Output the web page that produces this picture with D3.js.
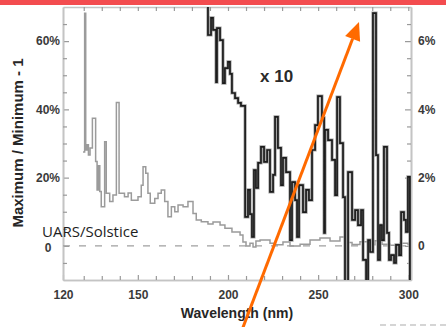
<!DOCTYPE html>
<html>
<head>
<meta charset="utf-8">
<script src="https://cdn.jsdelivr.net/npm/d3@7"></script>
<style>
  html, body { margin: 0; padding: 0; background: #fff; }
  svg { display: block; }
  .tick text { font-family: "Liberation Sans", Arial, sans-serif; font-weight: bold; font-size: 12px; fill: #3a3a3a; }
</style>
</head>
<body>
<svg id="chart" width="446" height="327"></svg>
<script>
// Solar UV variability: full (gray) and x10 (black) series
const grayNm = [119.6,120.5,121.1,121.8,122.6,123.5,124.8,126.6,127.4,128.2,128.9,129.7,131.6,132.5,134.4,136.2,138.1,139.6,142.6,144.6,146.4,150.1,151.9,152.9,154.4,155.6,156.9,159.4,161.2,163.0,164.9,166.7,168.6,170.5,172.3,175.1,177.8,180.6,182.4,185.2,188.9,191.7,195.6,198.3,202.2,206.7,208.3,210.0,212.2,213.9,215.5,217.8,223.3,226.1,230.5,234.4,240.0,245.5,251.0,256.6,262.1,264.9,268.8,273.2,277.7,281.5,285.4,289.9,295.4,299.9];
const grayPct = [27.5,68.2,28.1,29.6,26.6,28.7,37.4,24.7,16.4,23.5,15.9,11.5,30.5,15.4,13.0,14.9,42.0,15.4,14.4,15.5,13.4,14.4,17.8,23.2,21.3,15.4,12.5,13.9,15.4,16.4,13.0,8.5,11.5,10.0,12.0,11.5,13.0,9.5,7.6,7.1,6.4,7.0,6.1,5.2,4.1,3.2,1.1,0.0,0.8,-0.3,1.4,1.7,0.8,0.3,1.1,0.0,0.5,1.7,2.3,1.4,2.6,1.0,0.4,1.2,0.3,1.5,0.5,0.2,0.8,0.4];

const blackNm = [187.3,188.9,190.6,191.7,193.4,193.9,195.6,197.2,198.3,200.0,201.1,202.2,203.9,205.6,207.2,209.5,211.1,212.2,213.3,214.4,215.5,216.7,218.3,220.0,221.7,223.3,225.0,226.1,227.7,229.4,230.5,232.2,234.4,235.5,237.2,238.3,239.4,241.6,243.3,244.9,246.6,248.3,249.9,252.1,253.3,253.8,255.5,257.7,259.4,260.5,262.1,263.8,264.9,266.6,268.8,270.5,272.1,273.8,274.9,276.6,277.7,278.8,280.4,282.1,283.2,284.3,285.4,286.5,288.2,289.3,290.4,292.1,293.2,294.9,296.0,297.6,298.7,299.8,300.9];
const blackPct = [7.2,6.18,6.68,6.33,4.80,6.38,6.03,4.77,5.21,5.39,5.04,4.48,4.33,4.19,4.10,0.85,1.64,0.93,0.26,2.22,1.70,2.43,2.90,2.46,2.81,1.58,2.08,3.78,2.87,1.78,2.58,2.16,0.17,1.87,1.34,0.26,1.78,0.99,1.64,1.34,2.81,3.54,4.39,3.75,0.38,3.40,3.10,2.52,1.49,4.36,3.01,1.43,-1.06,2.16,0.76,1.05,0.61,1.05,-0.41,-1.06,0.17,-0.18,6.82,2.66,-0.41,0.61,0.17,2.90,0.38,-0.41,-0.27,-0.50,0.03,-0.27,0.99,0.76,0.41,2.02,-1.06];

// Axis ticks and labels
const xMajorTicks = [108.5, 150, 200, 250, 300];
const xMajorLabels = ["120", "150", "200", "250", "300"];
const xMinorTicks = [120,130,140,160,170,180,190,210,220,230,240,260,270,280,290];
const yLeftTicks = [0, 20, 40, 60];
const yLeftLabels = ["0", "20%", "40%", "60%"];
const yRightTicks = [0, 2, 4, 6];
const yRightLabels = ["0", "2%", "4%", "6%"];

const svg = d3.select("#chart");
const W = 446, H = 327;
const plot = { left: 63, right: 411, top: 7, bottom: 280 };

const x = d3.scaleLinear().domain([108.5, 301.5]).range([plot.left, plot.right]);
const yL = d3.scaleLinear().domain([-10, 70]).range([plot.bottom, plot.top]);
const yR = d3.scaleLinear().domain([-1, 7]).range([plot.bottom, plot.top]);

// red band across the top
svg.append("rect").attr("x", 0).attr("y", 0).attr("width", W).attr("height", 5).attr("fill", "#f34c4f");

svg.append("defs").append("clipPath").attr("id", "plotClip")
  .append("rect").attr("x", plot.left).attr("y", plot.top)
  .attr("width", plot.right - plot.left).attr("height", plot.bottom - plot.top);

const frameColor = "#c4c4c4", tickColor = "#9a9a9a";

function styleAxis(g) {
  g.select(".domain").attr("stroke", frameColor).attr("stroke-width", 1.6);
  g.selectAll(".tick line").attr("stroke", tickColor).attr("stroke-width", 1.2);
}

// bottom axis
svg.append("g").attr("transform", `translate(0,${plot.bottom})`)
  .call(d3.axisBottom(x).tickValues(xMajorTicks).tickSize(-5).tickSizeOuter(0).tickPadding(10)
    .tickFormat((d, i) => xMajorLabels[i]))
  .call(styleAxis);
svg.append("g").attr("transform", `translate(0,${plot.bottom})`)
  .call(d3.axisBottom(x).tickValues(xMinorTicks).tickSize(-4).tickSizeOuter(0).tickFormat(""))
  .call(styleAxis);

// top axis
svg.append("g").attr("transform", `translate(0,${plot.top})`)
  .call(d3.axisTop(x).tickValues(xMajorTicks.slice(1).concat(xMinorTicks)).tickSize(-4).tickSizeOuter(0).tickFormat(""))
  .call(styleAxis);

// left axis
const leftAx = svg.append("g").attr("transform", `translate(${plot.left},0)`)
  .call(d3.axisLeft(yL).tickValues(yLeftTicks).tickSize(-6).tickSizeOuter(0).tickFormat((d, i) => yLeftLabels[i]))
  .call(styleAxis);
leftAx.selectAll(".tick text").attr("text-anchor", "middle").attr("x", -15);
leftAx.selectAll(".tick").filter(d => d === 0).select("text").attr("dy", "0.45em").attr("font-size", 11);
svg.append("g").attr("transform", `translate(${plot.left},0)`)
  .call(d3.axisLeft(yL).tickValues(d3.range(-5, 70, 5).filter(v => v % 20 !== 0)).tickSize(-4).tickSizeOuter(0).tickFormat(""))
  .call(styleAxis);

// right axis
svg.append("g").attr("transform", `translate(${plot.right},0)`)
  .call(d3.axisRight(yR).tickValues(yRightTicks).tickSize(-6).tickSizeOuter(0).tickPadding(7).tickFormat((d, i) => yRightLabels[i]))
  .call(styleAxis);
svg.append("g").attr("transform", `translate(${plot.right},0)`)
  .call(d3.axisRight(yR).tickValues(d3.range(-0.5, 7, 0.5).filter(v => v % 2 !== 0)).tickSize(-4).tickSizeOuter(0).tickFormat(""))
  .call(styleAxis);

// zero reference line
svg.append("line")
  .attr("x1", plot.left).attr("x2", plot.right)
  .attr("y1", yL(0)).attr("y2", yL(0))
  .attr("stroke", "#a0a0a0").attr("stroke-width", 1.4).attr("stroke-dasharray", "7,9");

const plotG = svg.append("g").attr("clip-path", "url(#plotClip)");

const grayData = d3.zip(grayNm, grayPct).map(([n, v]) => ({ n, v }));
grayData.push({ n: x.domain()[1], v: grayData[grayData.length - 1].v });
const blackData = d3.zip(blackNm, blackPct).map(([n, v]) => ({ n, v }));
blackData.push({ n: x.domain()[1], v: blackData[blackData.length - 1].v });

plotG.append("path").datum(grayData)
  .attr("fill", "none").attr("stroke", "#9b9b9b").attr("stroke-width", 1.5)
  .attr("d", d3.line().x(d => x(d.n)).y(d => yL(d.v)).curve(d3.curveStepAfter));

const blackLine = d3.line().x(d => x(d.n)).y(d => yR(d.v)).curve(d3.curveStepAfter);
plotG.append("path").datum(blackData)
  .attr("fill", "none").attr("stroke", "#a3a3a3").attr("stroke-width", 3.2)
  .attr("d", blackLine);
plotG.append("path").datum(blackData)
  .attr("fill", "none").attr("stroke", "#1c1c1c").attr("stroke-width", 1.7)
  .attr("d", blackLine);

// labels
svg.append("text").attr("x", 260).attr("y", 82)
  .attr("font-family", "Liberation Sans, Arial, sans-serif").attr("font-weight", "bold")
  .attr("font-size", 17).attr("fill", "#2a2a2a").text("x 10");

svg.append("text").attr("x", 42).attr("y", 236.5)
  .attr("font-family", "Open Sans, sans-serif").attr("font-size", 15).attr("fill", "#1e1e1e")
  .text("UARS/Solstice");

svg.append("text")
  .attr("transform", "translate(23,143) rotate(-90)")
  .attr("text-anchor", "middle")
  .attr("font-family", "Liberation Sans, Arial, sans-serif").attr("font-weight", "bold")
  .attr("font-size", 15).attr("fill", "#262626").text("Maximum / Minimum - 1");

svg.append("text").attr("x", (plot.left + plot.right) / 2).attr("y", 318)
  .attr("text-anchor", "middle")
  .attr("font-family", "Liberation Sans, Arial, sans-serif").attr("font-weight", "bold")
  .attr("font-size", 14).attr("fill", "#262626").text("Wavelength (nm)");

// faint dashed strip at the lower right
svg.append("line").attr("x1", 380).attr("x2", W).attr("y1", 325).attr("y2", 325)
  .attr("stroke", "#c8c8c8").attr("stroke-width", 1.5).attr("stroke-dasharray", "6,4");

// orange annotation arrow
const a0 = [242, 330], a1 = [359, 22];
const ang = Math.atan2(a1[1] - a0[1], a1[0] - a0[0]);
const headLen = 18, headHalf = 8;
const bx = a1[0] - headLen * Math.cos(ang), by = a1[1] - headLen * Math.sin(ang);
svg.append("line").attr("x1", a0[0]).attr("y1", a0[1]).attr("x2", bx).attr("y2", by)
  .attr("stroke", "#ff6a00").attr("stroke-width", 3);
svg.append("path")
  .attr("d", `M${a1[0]},${a1[1]}L${bx + headHalf * Math.sin(ang)},${by - headHalf * Math.cos(ang)}L${bx - headHalf * Math.sin(ang)},${by + headHalf * Math.cos(ang)}Z`)
  .attr("fill", "#ff6a00");
</script>
</body>
</html>
